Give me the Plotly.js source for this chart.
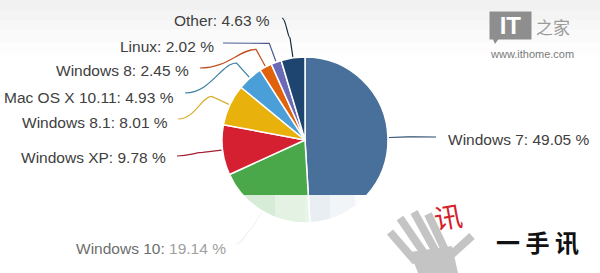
<!DOCTYPE html>
<html>
<head>
<meta charset="utf-8">
<script src="https://cdn.plot.ly/plotly-3.0.1.min.js"></script>
<style>html,body{margin:0;padding:0;background:#ffffff;}#chart{width:600px;height:273px;}</style>
</head>
<body>
<div id="chart"></div>
<script>
// ---- data ----
const categories = ["Windows 7", "Windows 10", "Windows XP", "Windows 8.1", "Mac OS X 10.11", "Windows 8", "Linux", "Other"];
const shares = [49.05, 19.14, 9.78, 8.01, 4.93, 2.45, 2.02, 4.63];
const sliceColors = ["#48709a", "#4aa84a", "#d42030", "#e8b10c", "#4a9fd8", "#e0620c", "#6a6ab8", "#1e4470"];
const lineColors = ["#2f4f70", "#c8c8c8", "#a02030", "#d8b030", "#3a7fa0", "#c05020", "#4a5a90", "#1a2a40"];

// ---- layout helpers (pixels -> paper) ----
const W = 600, H = 273;
const cx = 305, cy = 140, R = 83;
const px = x => x / W, py = y => 1 - y / H;

// label anchor (end of text next to the connector), in pixels
const labelAnchor = [
  {x: 446, y: 139, side: "left", lx: 436, ly: 137},
  {x: 228, y: 248, side: "right", lx: 236, ly: 244},
  {x: 168, y: 157.5, side: "right", lx: 177, ly: 156},
  {x: 170, y: 122.5, side: "right", lx: 178, ly: 119},
  {x: 176, y: 97, side: "right", lx: 185, ly: 93},
  {x: 191, y: 71, side: "right", lx: 200, ly: 68},
  {x: 216, y: 46, side: "right", lx: 223, ly: 43},
  {x: 272, y: 21, side: "right", lx: 282, ly: 18}
];

const shapes = [];
const annotations = [];

// light grey band at the top of the background
[[0, 10, "#f1f1f1"], [10, 20, "#f4f4f4"], [20, 30, "#f7f7f7"], [30, 42, "#fafafa"], [42, 55, "#fdfdfd"]].forEach(b => {
  shapes.push({type: "rect", xref: "paper", yref: "paper", x0: 0, x1: 1, y0: py(b[1]), y1: py(b[0]), fillcolor: b[2], line: {width: 0}, layer: "below"});
});

const total = shares.reduce((a, b) => a + b, 0);
let cum = 0;
categories.forEach((c, i) => {
  const mid = (cum + shares[i] / 2) / total * 2 * Math.PI;
  cum += shares[i];
  const ex = cx + (R + 1) * Math.sin(mid), ey = cy - (R + 1) * Math.cos(mid);
  const bx = cx + (R + 20) * Math.sin(mid), by = cy - (R + 20) * Math.cos(mid);
  const a = labelAnchor[i];
  const dx = bx - a.lx;
  const path = `M ${px(a.lx)},${py(a.ly)} C ${px(a.lx + dx * 0.5)},${py(a.ly)} ${px(bx - dx * 0.3)},${py(by)} ${px(bx)},${py(by)} L ${px(ex)},${py(ey)}`;
  shapes.push({type: "path", xref: "paper", yref: "paper", path: path, line: {color: lineColors[i], width: 1.2}, layer: "below"});
  let txt = c + ": " + shares[i].toFixed(2) + " %";
  if (i === 1) { txt = '<span style="color:#6e6e6e">' + c + ':</span> <span style="color:#a0a0a0">' + shares[i].toFixed(2) + ' %</span>'; }
  annotations.push({
    xref: "paper", yref: "paper", x: px(a.x), y: py(a.y),
    xanchor: a.side, yanchor: "middle", text: txt, showarrow: false,
    font: {family: "Liberation Sans, Arial, sans-serif", size: 15.5, color: "#404040"}
  });
});

// fading overlay at the bottom of the pie (stronger to the right)
[[215, 245, 0.72], [245, 275, 0.78], [275, 305, 0.85], [305, 330, 0.88], [330, 355, 0.93], [355, 400, 0.98]].forEach(s => {
  shapes.push({type: "rect", xref: "paper", yref: "paper", x0: px(s[0]), x1: px(s[1]), y0: py(273), y1: py(195), fillcolor: "rgba(255,255,255," + s[2] + ")", line: {width: 0}, layer: "above"});
});

// IT logo watermark
annotations.push({xref: "paper", yref: "paper", x: px(510.5), y: py(25.5), xanchor: "center", yanchor: "middle", text: "<b>IT</b>", showarrow: false, bgcolor: "#8e8e8e", width: 39, height: 25, font: {family: "Liberation Sans, Arial", size: 24, color: "#ffffff"}});
shapes.push({type: "path", xref: "paper", yref: "paper", path: `M ${px(492)},${py(37)} L ${px(500)},${py(37)} L ${px(495)},${py(44)} Z`, fillcolor: "#8e8e8e", line: {width: 0}});
annotations.push({xref: "paper", yref: "paper", x: px(553), y: py(27), xanchor: "center", yanchor: "middle", text: "之家", showarrow: false, font: {family: "Noto Sans CJK SC", size: 17, color: "#9a9a9a"}});
annotations.push({xref: "paper", yref: "paper", x: px(532), y: py(54), xanchor: "center", yanchor: "middle", text: "www.ithome.com", showarrow: false, font: {family: "Liberation Sans, Arial", size: 11, color: "#7a7a7a"}});

// hand watermark
const handColor = "#c4c4c4";
[[390, 232, 416, 262], [400, 218, 426, 256], [414, 212, 436, 252], [428, 214, 445, 250], [472, 236, 450, 256]].forEach(s => {
  shapes.push({type: "line", xref: "paper", yref: "paper", x0: px(s[0]), y0: py(s[1]), x1: px(s[2]), y1: py(s[3]), line: {color: handColor, width: 8}});
});
shapes.push({type: "path", xref: "paper", yref: "paper", path: `M ${px(410)},${py(252)} L ${px(452)},${py(246)} L ${px(458)},${py(273)} L ${px(418)},${py(273)} Z`, fillcolor: handColor, line: {width: 0}});
annotations.push({xref: "paper", yref: "paper", x: px(448), y: py(216), xanchor: "center", yanchor: "middle", text: "讯", showarrow: false, textangle: -10, font: {family: "Noto Sans CJK SC", size: 28, color: "#d4202a"}});
annotations.push({xref: "paper", yref: "paper", x: px(537), y: py(241), xanchor: "center", yanchor: "middle", text: "<b>一 手 讯</b>", showarrow: false, font: {family: "Noto Sans CJK SC", size: 24, color: "#111111"}});

const trace = {
  type: "pie",
  labels: categories,
  values: shares,
  sort: false,
  direction: "clockwise",
  rotation: 0,
  textinfo: "none",
  hoverinfo: "label+percent",
  marker: {colors: sliceColors, line: {color: "#ffffff", width: 1.5}},
  domain: {x: [px(222), px(388)], y: [py(223), py(57)]}
};

const layout = {
  width: W, height: H,
  margin: {l: 0, r: 0, t: 0, b: 0},
  paper_bgcolor: "#ffffff",
  showlegend: false,
  shapes: shapes,
  annotations: annotations
};

Plotly.newPlot("chart", [trace], layout, {displayModeBar: false, staticPlot: true});
</script>
</body>
</html>
